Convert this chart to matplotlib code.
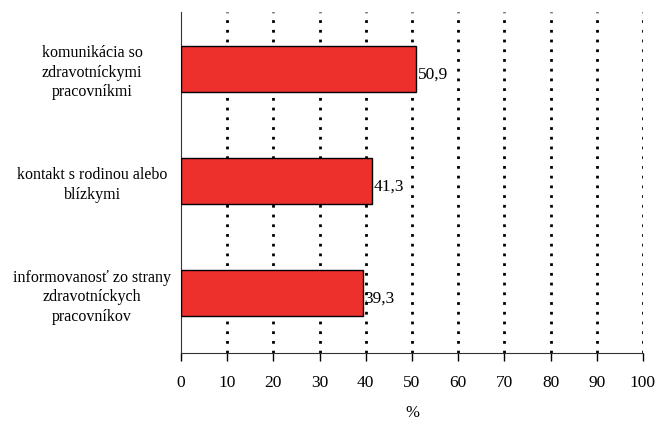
import matplotlib

matplotlib.use("Agg")
import matplotlib.pyplot as plt

plt.rcParams["font.family"] = ["Liberation Serif", "DejaVu Serif"]

categories = [
    "informovanosť zo strany\nzdravotníckych\npracovníkov",
    "kontakt s rodinou alebo\nblízkymi",
    "komunikácia so\nzdravotníckymi\npracovníkmi",
]
values = [39.3, 41.3, 50.9]
value_labels = ["39,3", "41,3", "50,9"]
xticks = list(range(0, 101, 10))

fig = plt.figure(figsize=(6.57, 4.23), dpi=100)
ax = fig.add_axes([0.2755, 0.1655, 0.703, 0.805])

ypos = list(range(len(categories)))
ax.barh(ypos, values, height=0.41, color="#EE302C", edgecolor="black",
        linewidth=1.0, zorder=3)

for y, v, lab in zip(ypos, values, value_labels):
    ax.text(v + 0.3, y - 0.05, lab, va="center", ha="left", fontsize=12.5,
            zorder=4)

# dotted vertical gridlines, drawn under the bars
for t in xticks[1:]:
    ax.axvline(t, linestyle=(0, (1, 2.5)), color="black", linewidth=2.0,
               zorder=1)

ax.set_xlim(0, 100)
ax.set_ylim(-0.53, 2.5)
ax.set_xticks(xticks)
ax.set_xticklabels([str(t) for t in xticks], fontsize=12.5)
ax.set_yticks(ypos)
ax.set_yticklabels(categories, fontsize=11.5, ha="center", linespacing=1.32)
ax.tick_params(axis="y", length=0, pad=64)
ax.tick_params(axis="x", length=6, width=1, direction="out", pad=10)

for side in ("top", "right"):
    ax.spines[side].set_visible(False)
ax.spines["left"].set_color("#333333")
ax.spines["bottom"].set_color("#333333")

ax.set_xlabel("%", fontsize=12, labelpad=10)

fig.savefig("out.png", dpi=100)
